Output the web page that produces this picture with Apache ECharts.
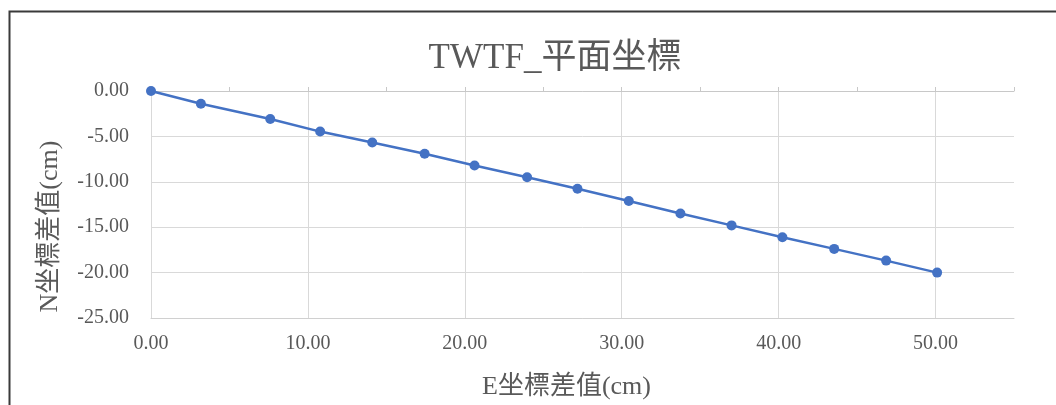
<!DOCTYPE html>
<html><head><meta charset="utf-8">
<script src="https://cdn.jsdelivr.net/npm/echarts@6/dist/echarts.min.js"></script>
<style>html,body{margin:0;padding:0;background:#fff}#c{width:1056px;height:405px}</style>
</head><body><div id="c"></div>
<script>
const titleText = 'TWTF_平面坐標';
const xName = 'E坐標差值(cm)';
const yName = 'N坐標差值(cm)';
const eValues = [0, 3.18, 7.6, 10.78, 14.1, 17.44, 20.62, 23.97, 27.18, 30.45, 33.74, 37.0, 40.24, 43.54, 46.85, 50.1];
const nValues = [0, -1.40, -3.08, -4.47, -5.68, -6.92, -8.2, -9.49, -10.77, -12.12, -13.5, -14.8, -16.1, -17.39, -18.68, -20.0];

const FONT = "'Liberation Serif', 'Noto Sans CJK TC', serif";
const grey = '#595959';
const points = eValues.map((e, i) => [e, nValues[i]]);

const chart = echarts.init(document.getElementById('c'));
chart.setOption({
  animation: false,
  backgroundColor: '#fff',
  title: {
    text: titleText, left: 550, top: 36, textAlign: 'center',
    textStyle: { fontFamily: FONT, fontSize: 35, fontWeight: 'normal', color: grey }
  },
  graphic: [{
    type: 'rect', left: 7, top: 9, silent: true,
    shape: { width: 1100, height: 500 },
    style: { fill: 'none', stroke: '#3a3a3a', lineWidth: 2 }
  }],
  grid: [
    { left: 151, right: 42, top: 91, bottom: 87, containLabel: false },
    { left: 151, right: 120.5, top: 91, bottom: 87, containLabel: false }
  ],
  xAxis: [{
    gridIndex: 0, type: 'value', min: 0, max: 55, interval: 10, position: 'bottom',
    name: xName, nameLocation: 'middle', nameGap: 56,
    nameTextStyle: { fontFamily: FONT, fontSize: 26, color: grey, padding: [0, 32, 0, 0] },
    axisLine: { show: true, onZero: false, lineStyle: { color: '#d0d0d0', width: 1 } },
    axisTick: { show: false },
    axisLabel: { fontFamily: FONT, fontSize: 20, color: grey, margin: 16, showMaxLabel: false,
      formatter: v => v.toFixed(2) },
    splitLine: { show: false }
  }, {
    gridIndex: 0, type: 'value', min: 0, max: 55, interval: 5, position: 'top',
    axisLine: { show: true, onZero: false, lineStyle: { color: '#c8c8c8', width: 1 } },
    axisTick: { show: true, inside: false, length: 4, lineStyle: { color: '#c8c8c8' } },
    axisLabel: { show: false },
    splitLine: { show: false }
  }, {
    gridIndex: 1, type: 'value', min: 0, max: 50, interval: 10, position: 'bottom',
    axisLine: { show: false }, axisTick: { show: false }, axisLabel: { show: false },
    splitLine: { show: true, lineStyle: { color: '#d9d9d9', width: 1 } }
  }],
  yAxis: [{
    gridIndex: 0, type: 'value', min: -25, max: 0, interval: 5,
    name: yName, nameLocation: 'middle', nameGap: 88, nameRotate: 90,
    nameTextStyle: { fontFamily: FONT, fontSize: 26, color: grey, padding: [0, 44, 0, 0] },
    axisLine: { show: false },
    axisTick: { show: false },
    axisLabel: { fontFamily: FONT, fontSize: 20, color: grey, margin: 22,
      formatter: v => v.toFixed(2) },
    splitLine: { show: true, lineStyle: { color: '#d9d9d9', width: 1 } }
  }, {
    gridIndex: 1, type: 'value', min: -25, max: 0, show: false
  }],
  series: [{
    type: 'line', xAxisIndex: 0, yAxisIndex: 0, data: points,
    symbol: 'circle', symbolSize: 10, showSymbol: true,
    lineStyle: { color: '#4472C4', width: 2.5 },
    itemStyle: { color: '#4472C4' }
  }]
});
</script></body></html>
